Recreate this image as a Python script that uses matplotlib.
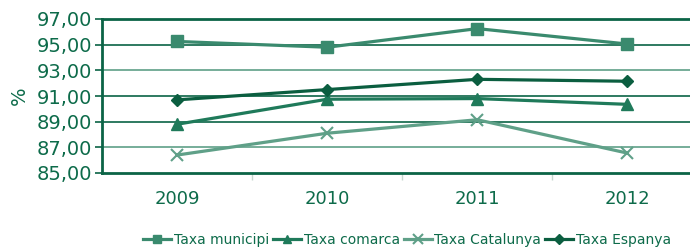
import matplotlib.pyplot as plt
import numpy as np

years = ['2009', '2010', '2011', '2012']
municipi = [95.25, 94.8, 96.25, 95.05]
comarca = [88.8, 90.75, 90.8, 90.35]
catalunya = [86.4, 88.1, 89.15, 86.55]
espanya = [90.7, 91.5, 92.3, 92.15]

dark = '#0b6446'
text_c = '#0d6b4a'

fig = plt.figure(figsize=(6.9, 2.5), dpi=100)
ax = fig.add_axes([0.148, 0.308, 0.87, 0.616])

# horizontal gridlines, alternating shades like the original
grid_cols = {87: '#5fa088', 89: dark, 91: dark, 93: '#5fa088', 95: dark}
for yv, c in grid_cols.items():
    ax.axhline(yv, color=c, lw=1.2, zorder=1)

x = np.arange(len(years))
ax.plot(x, municipi, color='#3a8a6e', lw=2.3, marker='s', ms=8, label='Taxa municipi', zorder=3)
ax.plot(x, comarca, color='#1f7a5a', lw=2.3, marker='^', ms=8, label='Taxa comarca', zorder=3)
ax.plot(x, catalunya, color='#5fa088', lw=2.3, marker='x', ms=9, mew=1.5, label='Taxa Catalunya', zorder=3)
ax.plot(x, espanya, color='#0b5e40', lw=2.3, marker='D', ms=6, label='Taxa Espanya', zorder=3)

ax.set_xlim(-0.5, 3.5)
ax.set_ylim(85, 97)
ax.set_yticks(np.arange(85, 98, 2))
ax.set_yticklabels([f'{v:.2f}'.replace('.', ',') for v in np.arange(85, 98, 2)])
ax.set_xticks(x)
ax.set_xticklabels(years)
ax.set_xticks([0.5, 1.5, 2.5], minor=True)

ax.spines['right'].set_visible(False)
for s in ['left', 'bottom', 'top']:
    ax.spines[s].set_color(dark)
    ax.spines[s].set_linewidth(2)

ax.tick_params(axis='y', colors=dark, labelcolor=text_c, labelsize=14, length=5, width=1.2, pad=2)
ax.tick_params(axis='x', which='major', length=0, labelcolor=text_c, labelsize=13, pad=12)
ax.tick_params(axis='x', which='minor', length=5, color='#c8d8d0', width=1)
ax.set_ylabel('%', color=text_c, fontsize=14, labelpad=6)

leg = fig.legend(loc='center', bbox_to_anchor=(0.59, 0.04), ncol=4, frameon=False,
                 fontsize=10, handlelength=2.0, handletextpad=0.2, columnspacing=0.3,
                 markerscale=0.8)
for t in leg.get_texts():
    t.set_color(text_c)

fig.savefig('out.png', dpi=100)
